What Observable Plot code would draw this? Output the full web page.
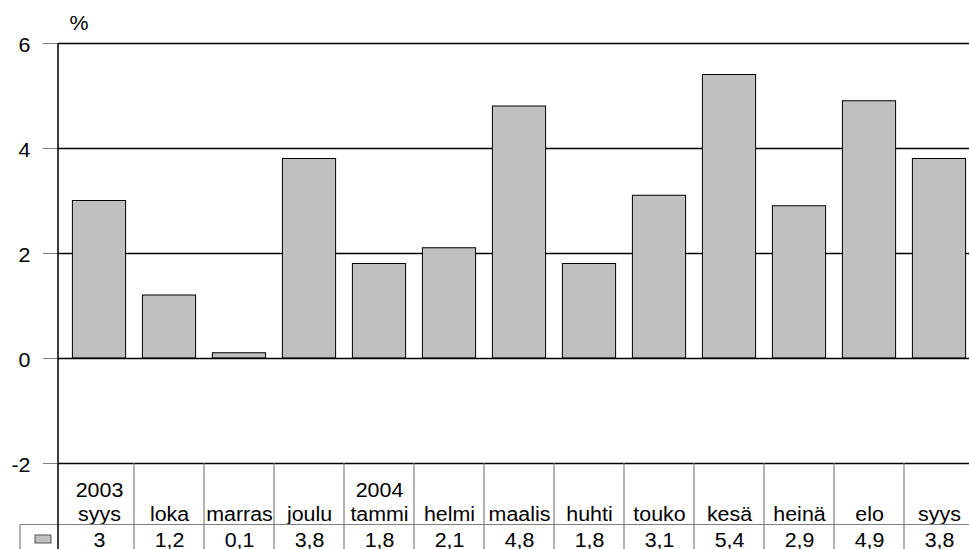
<!DOCTYPE html>
<html>
<head>
<meta charset="utf-8">
<script src="https://cdn.jsdelivr.net/npm/d3@7"></script>
<script src="https://cdn.jsdelivr.net/npm/@observablehq/plot@0.6"></script>
<style>
  html, body { margin: 0; padding: 0; background: #fff; overflow: hidden; }
  #chart svg { display: block; overflow: hidden; }
</style>
</head>
<body>
<div id="chart"></div>
<script>
const months = ["syys","loka","marras","joulu","tammi","helmi","maalis","huhti","touko","kesä","heinä","elo","syys"];
const years  = ["2003","","","","2004","","","","","","","",""];
const values = [3, 1.2, 0.1, 3.8, 1.8, 2.1, 4.8, 1.8, 3.1, 5.4, 2.9, 4.9, 3.8];
const yTicks = [-2, 0, 2, 4, 6];
const gridValues = [2, 4, 6];

const data = months.map((m, i) => ({
  key: i,
  month: m,
  year: years[i],
  value: values[i],
  label: years[i] ? years[i] + "\n" + m : m,
  valueText: String(values[i]).replace(".", ",")
}));

const W = 969, H = 549;
const FS = 20;
const font = "'Liberation Sans', Arial, sans-serif";

const chart = Plot.plot({
  width: W,
  height: H,
  marginLeft: 58,
  marginRight: 0,
  marginTop: 43,
  marginBottom: 86,
  style: {fontFamily: font, fontSize: FS + "px", background: "#fff", color: "#000"},
  x: {type: "band", domain: data.map(d => d.key), range: [58.5, 979], padding: 0, axis: null},
  y: {domain: [-2, 6], axis: null},
  marks: [
    Plot.ruleY(gridValues, {stroke: "#000", strokeWidth: 1.5}),
    Plot.barY(data, {x: "key", y: "value", fill: "#c0c0c0", stroke: "#000", strokeWidth: 1, insetLeft: 8.4, insetRight: 8.4}),
    Plot.ruleY([0], {stroke: "#000", strokeWidth: 1.5}),
    Plot.ruleY([-2], {stroke: "#000", strokeWidth: 1.5}),
    // tick marks
    Plot.axisY({ticks: yTicks, tickSize: 15, stroke: "#808080", text: null, label: null}),
    // tick labels (slightly below their tick, as in the reference)
    Plot.axisY({ticks: yTicks, tickSize: 0, tickPadding: 28, fill: "#000", fontSize: FS, label: null, textStroke: "none", dy: 2.5, tickFormat: d => String(d)}),
    Plot.text(["%"], {frameAnchor: "top-left", lineAnchor: "middle", dx: 11, dy: -20, text: d => d, fontSize: FS, fill: "#000"}),
    Plot.text(data, {x: "key", text: "label", frameAnchor: "bottom", lineAnchor: "bottom", lineHeight: 1.17, dy: 57, fontSize: FS, fill: "#000"}),
    Plot.text(data, {x: "key", text: "valueText", frameAnchor: "bottom", lineAnchor: "bottom", dy: 83, fontSize: FS, fill: "#000"})
  ]
});

document.getElementById("chart").appendChild(chart);

// reference glyphs are slightly wide: stretch text about its anchor
d3.select(chart).selectAll("text").each(function() {
  const t = this.getAttribute("transform") || "";
  this.setAttribute("transform", (t + " scale(1.07,1)").trim());
});

// Data table grid drawn from Plot's own scales
const xs = chart.scale("x");
const ys = chart.scale("y");
const svg = d3.select(chart);
const gridG = svg.append("g").attr("fill", "none");
const tableTop = ys.apply(-2);
const rowLine = tableTop + 61.5;
data.forEach((d, i) => {
  if (i === 0) return;
  const x = xs.apply(d.key);
  gridG.append("line").attr("x1", x).attr("x2", x).attr("y1", tableTop).attr("y2", H)
    .attr("stroke", "#808080").attr("stroke-width", 1.2);
});
gridG.append("line").attr("x1", 20).attr("x2", W).attr("y1", rowLine).attr("y2", rowLine)
  .attr("stroke", "#808080").attr("stroke-width", 1.2);
gridG.append("line").attr("x1", 20).attr("x2", 20).attr("y1", rowLine).attr("y2", H)
  .attr("stroke", "#808080").attr("stroke-width", 1.2);
gridG.append("line").attr("x1", 58).attr("x2", 58).attr("y1", ys.apply(6)).attr("y2", H)
  .attr("stroke", "#000").attr("stroke-width", 1.5);
gridG.append("rect").attr("x", 35).attr("y", 535).attr("width", 16).attr("height", 8)
  .attr("fill", "#c0c0c0").attr("stroke", "#555").attr("stroke-width", 1);
</script>
</body>
</html>
